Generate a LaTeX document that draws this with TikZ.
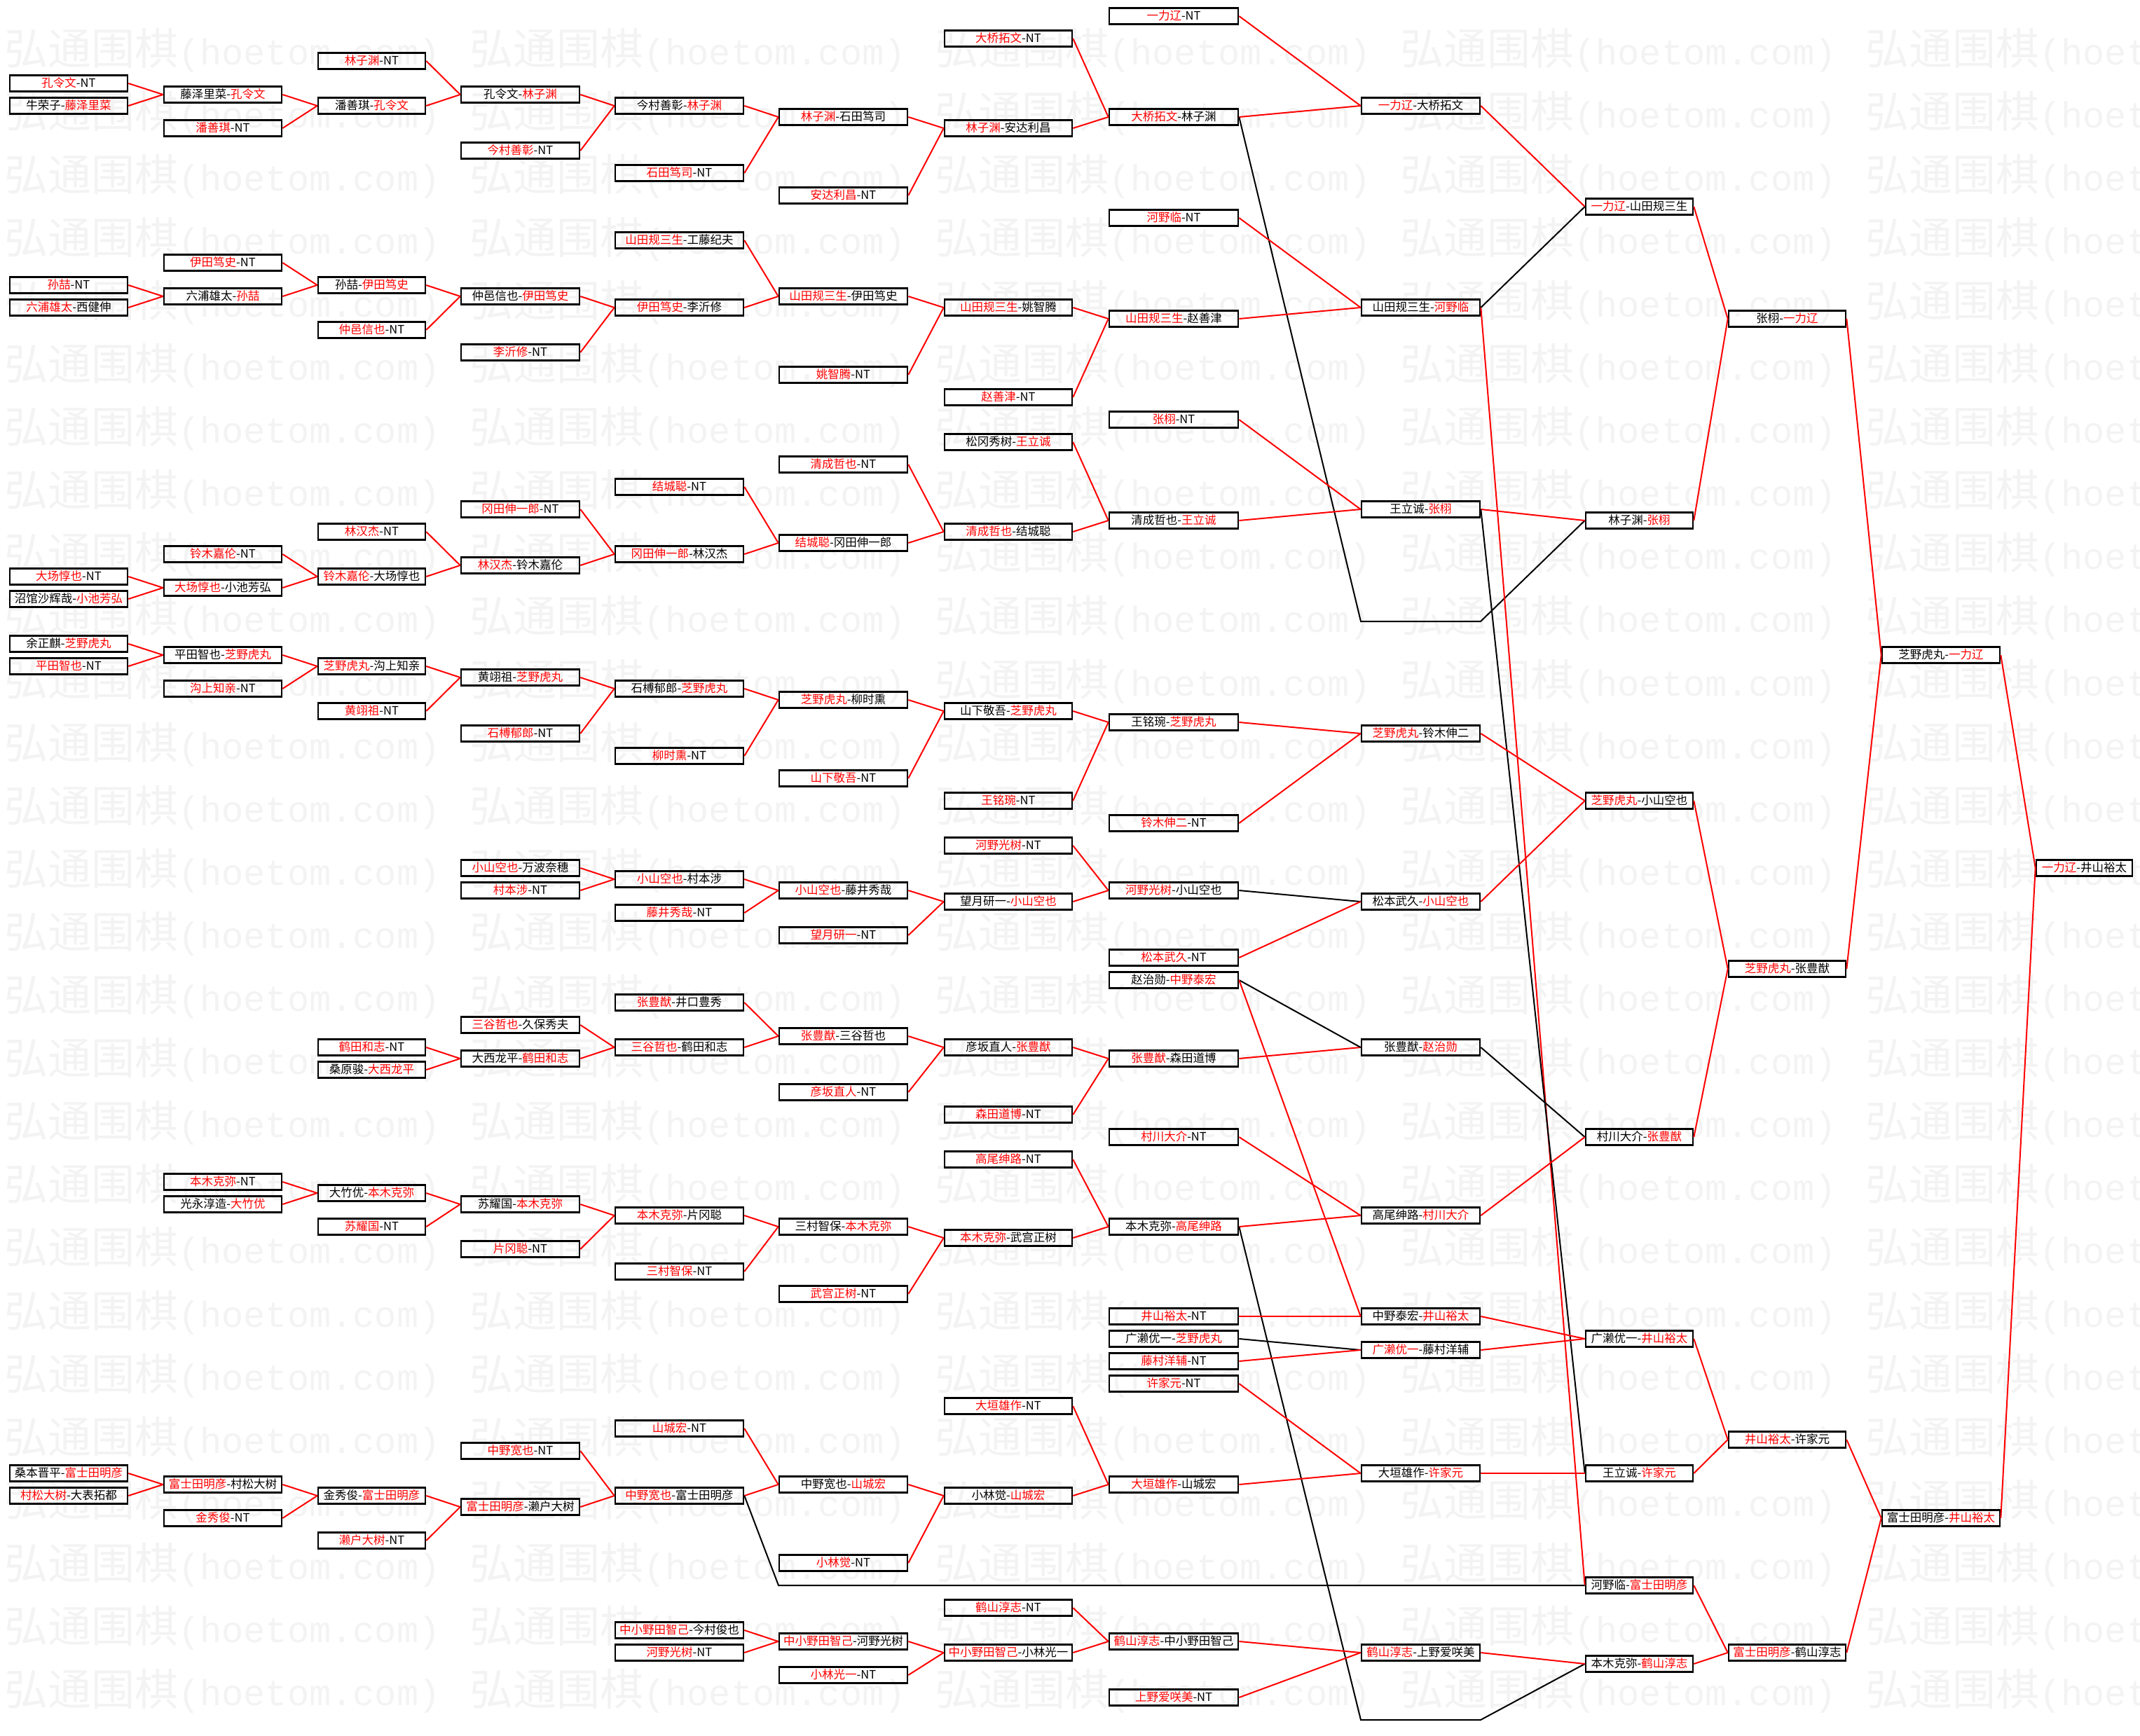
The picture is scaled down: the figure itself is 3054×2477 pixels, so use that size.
\documentclass[tikz,border=0pt]{standalone}
\usepackage{fontspec}
\setmainfont{Noto Sans CJK SC}
\newfontfamily\wmmono{Liberation Mono}
\definecolor{rd}{RGB}{255,0,0}
\definecolor{wmc}{RGB}{243,243,243}
\newcommand\colx[1]{\ifcase#1 98\or 318\or 530.5\or 742.5\or 969.5\or 1203.5\or 1439\or 1675\or 2027.5\or 2339.5\or 2550.5\or 2770\or 2974.5\fi}
\newcommand\colw[1]{\ifcase#1 168\or 168\or 153\or 169\or 183\or 183\or 182\or 184\or 169\or 153\or 167\or 168\or 137\fi}
\newcommand\BX[6]{%
  \edef\bxx{\colx{#2}}\edef\bxw{\colw{#2}}%
  \node[bx, minimum width=\bxw pt] (#1) at (\bxx, {7+16*#3}) {\ifx l#6\textcolor{rd}{#4}-#5\else #4-\textcolor{rd}{#5}\fi};}
\newcommand\lnR[2]{\draw[rl] (#1.east) -- (#2.west);}
\newcommand\lnK[2]{\draw[kl] (#1.east) -- (#2.west);}
\tikzset{
  bx/.style={draw=black, line width=2.6pt, inner sep=0pt, minimum height=23pt,
    text height=13.5pt, text depth=2.5pt, font=\fontsize{16.5}{16.5}\selectfont},
  rl/.style={draw=rd, line width=2pt},
  kl/.style={draw=black, line width=2pt},
  wmk/.style={text=wmc, inner sep=0pt, anchor=base west}
}
\begin{document}
\begin{tikzpicture}[x=1pt,y=-1pt]
\useasboundingbox (0,0) rectangle (3054,2477);
% watermark
\foreach \k in {0,...,26}{
  \foreach \j in {0,...,4}{
    \node[wmk] (wm\k-\j) at ({6+664*\j},{92+90.1*\k}) {\fontsize{62}{62}\selectfont 弘通围棋\wmmono\fontsize{52}{52}\selectfont(hoetom.com)};
  }
}
% C0
\BX{c0r7}{0}{7}{孔令文}{NT}{l}
\BX{c0r9}{0}{9}{牛荣子}{藤泽里菜}{r}
\BX{c0r25}{0}{25}{孙喆}{NT}{l}
\BX{c0r27}{0}{27}{六浦雄太}{西健伸}{l}
\BX{c0r51}{0}{51}{大场惇也}{NT}{l}
\BX{c0r53}{0}{53}{沼馆沙辉哉}{小池芳弘}{r}
\BX{c0r57}{0}{57}{余正麒}{芝野虎丸}{r}
\BX{c0r59}{0}{59}{平田智也}{NT}{l}
\BX{c0r131}{0}{131}{桑本晋平}{富士田明彦}{r}
\BX{c0r133}{0}{133}{村松大树}{大表拓都}{l}
% C1
\BX{c1r8}{1}{8}{藤泽里菜}{孔令文}{r}
\BX{c1r11}{1}{11}{潘善琪}{NT}{l}
\BX{c1r23}{1}{23}{伊田笃史}{NT}{l}
\BX{c1r26}{1}{26}{六浦雄太}{孙喆}{r}
\BX{c1r49}{1}{49}{铃木嘉伦}{NT}{l}
\BX{c1r52}{1}{52}{大场惇也}{小池芳弘}{l}
\BX{c1r58}{1}{58}{平田智也}{芝野虎丸}{r}
\BX{c1r61}{1}{61}{沟上知亲}{NT}{l}
\BX{c1r105}{1}{105}{本木克弥}{NT}{l}
\BX{c1r107}{1}{107}{光永淳造}{大竹优}{r}
\BX{c1r132}{1}{132}{富士田明彦}{村松大树}{l}
\BX{c1r135}{1}{135}{金秀俊}{NT}{l}
% C2
\BX{c2r5}{2}{5}{林子渊}{NT}{l}
\BX{c2r9}{2}{9}{潘善琪}{孔令文}{r}
\BX{c2r25}{2}{25}{孙喆}{伊田笃史}{r}
\BX{c2r29}{2}{29}{仲邑信也}{NT}{l}
\BX{c2r47}{2}{47}{林汉杰}{NT}{l}
\BX{c2r51}{2}{51}{铃木嘉伦}{大场惇也}{l}
\BX{c2r59}{2}{59}{芝野虎丸}{沟上知亲}{l}
\BX{c2r63}{2}{63}{黄翊祖}{NT}{l}
\BX{c2r93}{2}{93}{鹤田和志}{NT}{l}
\BX{c2r95}{2}{95}{桑原骏}{大西龙平}{r}
\BX{c2r106}{2}{106}{大竹优}{本木克弥}{r}
\BX{c2r109}{2}{109}{苏耀国}{NT}{l}
\BX{c2r133}{2}{133}{金秀俊}{富士田明彦}{r}
\BX{c2r137}{2}{137}{濑户大树}{NT}{l}
% C3
\BX{c3r8}{3}{8}{孔令文}{林子渊}{r}
\BX{c3r13}{3}{13}{今村善彰}{NT}{l}
\BX{c3r26}{3}{26}{仲邑信也}{伊田笃史}{r}
\BX{c3r31}{3}{31}{李沂修}{NT}{l}
\BX{c3r45}{3}{45}{冈田伸一郎}{NT}{l}
\BX{c3r50}{3}{50}{林汉杰}{铃木嘉伦}{l}
\BX{c3r60}{3}{60}{黄翊祖}{芝野虎丸}{r}
\BX{c3r65}{3}{65}{石榑郁郎}{NT}{l}
\BX{c3r77}{3}{77}{小山空也}{万波奈穗}{l}
\BX{c3r79}{3}{79}{村本涉}{NT}{l}
\BX{c3r91}{3}{91}{三谷哲也}{久保秀夫}{l}
\BX{c3r94}{3}{94}{大西龙平}{鹤田和志}{r}
\BX{c3r107}{3}{107}{苏耀国}{本木克弥}{r}
\BX{c3r111}{3}{111}{片冈聪}{NT}{l}
\BX{c3r129}{3}{129}{中野宽也}{NT}{l}
\BX{c3r134}{3}{134}{富士田明彦}{濑户大树}{l}
% C4
\BX{c4r9}{4}{9}{今村善彰}{林子渊}{r}
\BX{c4r15}{4}{15}{石田笃司}{NT}{l}
\BX{c4r21}{4}{21}{山田规三生}{工藤纪夫}{l}
\BX{c4r27}{4}{27}{伊田笃史}{李沂修}{l}
\BX{c4r43}{4}{43}{结城聪}{NT}{l}
\BX{c4r49}{4}{49}{冈田伸一郎}{林汉杰}{l}
\BX{c4r61}{4}{61}{石榑郁郎}{芝野虎丸}{r}
\BX{c4r67}{4}{67}{柳时熏}{NT}{l}
\BX{c4r78}{4}{78}{小山空也}{村本涉}{l}
\BX{c4r81}{4}{81}{藤井秀哉}{NT}{l}
\BX{c4r89}{4}{89}{张豊猷}{井口豊秀}{l}
\BX{c4r93}{4}{93}{三谷哲也}{鹤田和志}{l}
\BX{c4r108}{4}{108}{本木克弥}{片冈聪}{l}
\BX{c4r113}{4}{113}{三村智保}{NT}{l}
\BX{c4r127}{4}{127}{山城宏}{NT}{l}
\BX{c4r133}{4}{133}{中野宽也}{富士田明彦}{l}
\BX{c4r145}{4}{145}{中小野田智己}{今村俊也}{l}
\BX{c4r147}{4}{147}{河野光树}{NT}{l}
% C5
\BX{c5r10}{5}{10}{林子渊}{石田笃司}{l}
\BX{c5r17}{5}{17}{安达利昌}{NT}{l}
\BX{c5r26}{5}{26}{山田规三生}{伊田笃史}{l}
\BX{c5r33}{5}{33}{姚智腾}{NT}{l}
\BX{c5r41}{5}{41}{清成哲也}{NT}{l}
\BX{c5r48}{5}{48}{结城聪}{冈田伸一郎}{l}
\BX{c5r62}{5}{62}{芝野虎丸}{柳时熏}{l}
\BX{c5r69}{5}{69}{山下敬吾}{NT}{l}
\BX{c5r79}{5}{79}{小山空也}{藤井秀哉}{l}
\BX{c5r83}{5}{83}{望月研一}{NT}{l}
\BX{c5r92}{5}{92}{张豊猷}{三谷哲也}{l}
\BX{c5r97}{5}{97}{彦坂直人}{NT}{l}
\BX{c5r109}{5}{109}{三村智保}{本木克弥}{r}
\BX{c5r115}{5}{115}{武宫正树}{NT}{l}
\BX{c5r132}{5}{132}{中野宽也}{山城宏}{r}
\BX{c5r139}{5}{139}{小林觉}{NT}{l}
\BX{c5r146}{5}{146}{中小野田智己}{河野光树}{l}
\BX{c5r149}{5}{149}{小林光一}{NT}{l}
% C6
\BX{c6r3}{6}{3}{大桥拓文}{NT}{l}
\BX{c6r11}{6}{11}{林子渊}{安达利昌}{l}
\BX{c6r27}{6}{27}{山田规三生}{姚智腾}{l}
\BX{c6r35}{6}{35}{赵善津}{NT}{l}
\BX{c6r39}{6}{39}{松冈秀树}{王立诚}{r}
\BX{c6r47}{6}{47}{清成哲也}{结城聪}{l}
\BX{c6r63}{6}{63}{山下敬吾}{芝野虎丸}{r}
\BX{c6r71}{6}{71}{王铭琬}{NT}{l}
\BX{c6r75}{6}{75}{河野光树}{NT}{l}
\BX{c6r80}{6}{80}{望月研一}{小山空也}{r}
\BX{c6r93}{6}{93}{彦坂直人}{张豊猷}{r}
\BX{c6r99}{6}{99}{森田道博}{NT}{l}
\BX{c6r103}{6}{103}{高尾绅路}{NT}{l}
\BX{c6r110}{6}{110}{本木克弥}{武宫正树}{l}
\BX{c6r125}{6}{125}{大垣雄作}{NT}{l}
\BX{c6r133}{6}{133}{小林觉}{山城宏}{r}
\BX{c6r143}{6}{143}{鹤山淳志}{NT}{l}
\BX{c6r147}{6}{147}{中小野田智己}{小林光一}{l}
% C7
\BX{c7r1}{7}{1}{一力辽}{NT}{l}
\BX{c7r10}{7}{10}{大桥拓文}{林子渊}{l}
\BX{c7r19}{7}{19}{河野临}{NT}{l}
\BX{c7r28}{7}{28}{山田规三生}{赵善津}{l}
\BX{c7r37}{7}{37}{张栩}{NT}{l}
\BX{c7r46}{7}{46}{清成哲也}{王立诚}{r}
\BX{c7r64}{7}{64}{王铭琬}{芝野虎丸}{r}
\BX{c7r73}{7}{73}{铃木伸二}{NT}{l}
\BX{c7r79}{7}{79}{河野光树}{小山空也}{l}
\BX{c7r85}{7}{85}{松本武久}{NT}{l}
\BX{c7r87}{7}{87}{赵治勋}{中野泰宏}{r}
\BX{c7r94}{7}{94}{张豊猷}{森田道博}{l}
\BX{c7r101}{7}{101}{村川大介}{NT}{l}
\BX{c7r109}{7}{109}{本木克弥}{高尾绅路}{r}
\BX{c7r117}{7}{117}{井山裕太}{NT}{l}
\BX{c7r119}{7}{119}{广濑优一}{芝野虎丸}{r}
\BX{c7r121}{7}{121}{藤村洋辅}{NT}{l}
\BX{c7r123}{7}{123}{许家元}{NT}{l}
\BX{c7r132}{7}{132}{大垣雄作}{山城宏}{l}
\BX{c7r146}{7}{146}{鹤山淳志}{中小野田智己}{l}
\BX{c7r151}{7}{151}{上野爱咲美}{NT}{l}
% C8
\BX{c8r9}{8}{9}{一力辽}{大桥拓文}{l}
\BX{c8r27}{8}{27}{山田规三生}{河野临}{r}
\BX{c8r45}{8}{45}{王立诚}{张栩}{r}
\BX{c8r65}{8}{65}{芝野虎丸}{铃木伸二}{l}
\BX{c8r80}{8}{80}{松本武久}{小山空也}{r}
\BX{c8r93}{8}{93}{张豊猷}{赵治勋}{r}
\BX{c8r108}{8}{108}{高尾绅路}{村川大介}{r}
\BX{c8r117}{8}{117}{中野泰宏}{井山裕太}{r}
\BX{c8r120}{8}{120}{广濑优一}{藤村洋辅}{l}
\BX{c8r131}{8}{131}{大垣雄作}{许家元}{r}
\BX{c8r147}{8}{147}{鹤山淳志}{上野爱咲美}{l}
% C9
\BX{c9r18}{9}{18}{一力辽}{山田规三生}{l}
\BX{c9r46}{9}{46}{林子渊}{张栩}{r}
\BX{c9r71}{9}{71}{芝野虎丸}{小山空也}{l}
\BX{c9r101}{9}{101}{村川大介}{张豊猷}{r}
\BX{c9r119}{9}{119}{广濑优一}{井山裕太}{r}
\BX{c9r131}{9}{131}{王立诚}{许家元}{r}
\BX{c9r141}{9}{141}{河野临}{富士田明彦}{r}
\BX{c9r148}{9}{148}{本木克弥}{鹤山淳志}{r}
% C10
\BX{c10r28}{10}{28}{张栩}{一力辽}{r}
\BX{c10r86}{10}{86}{芝野虎丸}{张豊猷}{l}
\BX{c10r128}{10}{128}{井山裕太}{许家元}{l}
\BX{c10r147}{10}{147}{富士田明彦}{鹤山淳志}{l}
% C11
\BX{c11r58}{11}{58}{芝野虎丸}{一力辽}{r}
\BX{c11r135}{11}{135}{富士田明彦}{井山裕太}{r}
% C12
\BX{c12r77}{12}{77}{一力辽}{井山裕太}{l}
% pass-through points
\coordinate (h55a) at (1942,887);
\coordinate (h55b) at (2113,887);
\coordinate (h141a) at (1111,2263);
\coordinate (h153a) at (1942,2455);
\coordinate (h153b) at (2113,2455);
% connectors
\lnR{c0r7}{c1r8}\lnR{c0r9}{c1r8}\lnR{c1r8}{c2r9}\lnR{c1r11}{c2r9}
\lnR{c2r5}{c3r8}\lnR{c2r9}{c3r8}\lnR{c3r8}{c4r9}\lnR{c3r13}{c4r9}
\lnR{c4r9}{c5r10}\lnR{c4r15}{c5r10}\lnR{c5r10}{c6r11}\lnR{c5r17}{c6r11}
\lnR{c6r3}{c7r10}\lnR{c6r11}{c7r10}\lnR{c7r1}{c8r9}\lnR{c7r10}{c8r9}
\draw[kl] (c7r10.east) -- (h55a) -- (h55b) -- (c9r46.west);
\lnR{c0r25}{c1r26}\lnR{c0r27}{c1r26}\lnR{c1r23}{c2r25}\lnR{c1r26}{c2r25}
\lnR{c2r25}{c3r26}\lnR{c2r29}{c3r26}\lnR{c3r26}{c4r27}\lnR{c3r31}{c4r27}
\lnR{c4r21}{c5r26}\lnR{c4r27}{c5r26}\lnR{c5r26}{c6r27}\lnR{c5r33}{c6r27}
\lnR{c6r27}{c7r28}\lnR{c6r35}{c7r28}\lnR{c7r19}{c8r27}\lnR{c7r28}{c8r27}
\lnR{c8r9}{c9r18}\lnK{c8r27}{c9r18}\lnR{c8r27}{c9r141}
\lnR{c0r51}{c1r52}\lnR{c0r53}{c1r52}\lnR{c1r49}{c2r51}\lnR{c1r52}{c2r51}
\lnR{c2r47}{c3r50}\lnR{c2r51}{c3r50}\lnR{c3r45}{c4r49}\lnR{c3r50}{c4r49}
\lnR{c4r43}{c5r48}\lnR{c4r49}{c5r48}\lnR{c5r41}{c6r47}\lnR{c5r48}{c6r47}
\lnR{c6r39}{c7r46}\lnR{c6r47}{c7r46}\lnR{c7r37}{c8r45}\lnR{c7r46}{c8r45}
\lnR{c8r45}{c9r46}\lnK{c8r45}{c9r131}
\lnR{c9r18}{c10r28}\lnR{c9r46}{c10r28}\lnR{c10r28}{c11r58}\lnR{c11r58}{c12r77}
\lnR{c0r57}{c1r58}\lnR{c0r59}{c1r58}\lnR{c1r58}{c2r59}\lnR{c1r61}{c2r59}
\lnR{c2r59}{c3r60}\lnR{c2r63}{c3r60}\lnR{c3r60}{c4r61}\lnR{c3r65}{c4r61}
\lnR{c4r61}{c5r62}\lnR{c4r67}{c5r62}\lnR{c5r62}{c6r63}\lnR{c5r69}{c6r63}
\lnR{c6r63}{c7r64}\lnR{c6r71}{c7r64}\lnR{c7r64}{c8r65}\lnR{c7r73}{c8r65}
\lnR{c8r65}{c9r71}
\lnR{c3r77}{c4r78}\lnR{c3r79}{c4r78}\lnR{c4r78}{c5r79}\lnR{c4r81}{c5r79}
\lnR{c5r79}{c6r80}\lnR{c5r83}{c6r80}\lnR{c6r75}{c7r79}\lnR{c6r80}{c7r79}
\lnK{c7r79}{c8r80}\lnR{c7r85}{c8r80}\lnR{c8r80}{c9r71}
\lnR{c9r71}{c10r86}\lnR{c9r101}{c10r86}\lnR{c10r86}{c11r58}
\lnR{c2r93}{c3r94}\lnR{c2r95}{c3r94}\lnR{c3r91}{c4r93}\lnR{c3r94}{c4r93}
\lnR{c4r89}{c5r92}\lnR{c4r93}{c5r92}\lnR{c5r92}{c6r93}\lnR{c5r97}{c6r93}
\lnR{c6r93}{c7r94}\lnR{c6r99}{c7r94}\lnR{c7r94}{c8r93}\lnK{c7r87}{c8r93}
\lnR{c7r87}{c8r117}\lnK{c8r93}{c9r101}\lnR{c8r108}{c9r101}
\lnR{c7r101}{c8r108}\lnR{c7r109}{c8r108}
\draw[kl] (c7r109.east) -- (h153a) -- (h153b) -- (c9r148.west);
\lnR{c1r105}{c2r106}\lnR{c1r107}{c2r106}\lnR{c2r106}{c3r107}\lnR{c2r109}{c3r107}
\lnR{c3r107}{c4r108}\lnR{c3r111}{c4r108}\lnR{c4r108}{c5r109}\lnR{c4r113}{c5r109}
\lnR{c5r109}{c6r110}\lnR{c5r115}{c6r110}\lnR{c6r103}{c7r109}\lnR{c6r110}{c7r109}
\lnR{c7r117}{c8r117}\lnK{c7r119}{c8r120}\lnR{c7r121}{c8r120}
\lnR{c8r117}{c9r119}\lnR{c8r120}{c9r119}\lnR{c7r123}{c8r131}\lnR{c7r132}{c8r131}
\lnR{c8r131}{c9r131}\lnR{c9r119}{c10r128}\lnR{c9r131}{c10r128}\lnR{c10r128}{c11r135}
\lnR{c0r131}{c1r132}\lnR{c0r133}{c1r132}\lnR{c1r132}{c2r133}\lnR{c1r135}{c2r133}
\lnR{c2r133}{c3r134}\lnR{c2r137}{c3r134}\lnR{c3r129}{c4r133}\lnR{c3r134}{c4r133}
\lnR{c4r127}{c5r132}\lnR{c4r133}{c5r132}
\draw[kl] (c4r133.east) -- (h141a) -- (c9r141.west);
\lnR{c5r132}{c6r133}\lnR{c5r139}{c6r133}\lnR{c6r125}{c7r132}\lnR{c6r133}{c7r132}
\lnR{c4r145}{c5r146}\lnR{c4r147}{c5r146}\lnR{c5r146}{c6r147}\lnR{c5r149}{c6r147}
\lnR{c6r143}{c7r146}\lnR{c6r147}{c7r146}\lnR{c7r146}{c8r147}\lnR{c7r151}{c8r147}
\lnR{c8r147}{c9r148}\lnR{c9r141}{c10r147}\lnR{c9r148}{c10r147}
\lnR{c10r147}{c11r135}\lnR{c11r135}{c12r77}
\end{tikzpicture}
\end{document}
